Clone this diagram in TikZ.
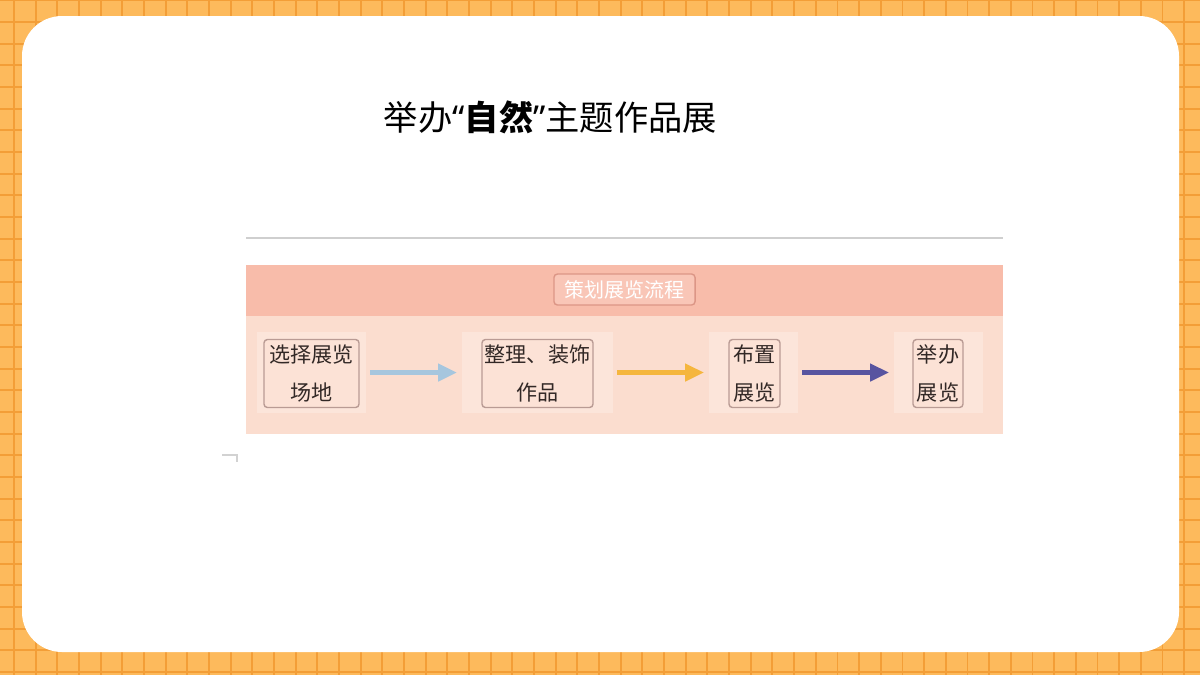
\documentclass[tikz,border=0pt]{standalone}
\usepackage{fontspec}
\usetikzlibrary{arrows.meta}
\newfontfamily\cjk{Noto Sans CJK SC}
\newfontfamily\latinq{Noto Sans}
\definecolor{gridfill}{RGB}{253,186,92}
\definecolor{gridline}{RGB}{243,158,55}
\definecolor{bandtop}{RGB}{248,188,170}
\definecolor{bandlow}{RGB}{251,221,207}
\definecolor{patchc}{RGB}{252,229,218}
\definecolor{boxfill}{RGB}{252,226,214}
\definecolor{boxline}{RGB}{185,155,148}
\definecolor{hdrline}{RGB}{220,150,134}
\definecolor{hdrfill}{RGB}{249,198,183}
\definecolor{arrblue}{RGB}{166,198,222}
\definecolor{arrorange}{RGB}{245,182,62}
\definecolor{arrpurple}{RGB}{88,84,160}
\definecolor{txtdark}{RGB}{50,40,38}
\tikzset{
  patch/.style={fill=patchc, draw=none, inner sep=0pt, minimum height=23.05pt},
  stepbox/.style={fill=boxfill, draw=boxline, line width=0.4pt, rounded corners=1pt,
    inner sep=0pt, minimum height=19.35pt, align=center, text=txtdark,
    font=\cjk\fontsize{6pt}{10.8pt}\selectfont},
  flow/.style={line width=1.45pt, -{Triangle[length=5.4pt,width=4.8pt]},
    shorten <=1pt, shorten >=1.2pt},
}
\begin{document}
\begin{tikzpicture}[x=0.01cm,y=-0.01cm]
\useasboundingbox (0,0) rectangle (1200,675);
% grid background
\fill[gridfill] (0,0) rectangle (1200,675);
\foreach \i in {0,...,55} {
  \draw[gridline, line width=0.55pt] ({14+\i*21.67},0) -- ({14+\i*21.67},675);
}
\foreach \j in {0,...,31} {
  \draw[gridline, line width=0.55pt] (0,{0.3+\j*21.67}) -- (1200,{0.3+\j*21.67});
}
% white card
\fill[white, rounded corners=0.4cm] (22,16) rectangle (1179,652);
% title
\node[font=\cjk\fontsize{9.75pt}{11pt}\selectfont, anchor=center] (title) at (550.5,117)
  {举办{\latinq “}{\bfseries 自然}{\latinq ”}主题作品展};
% gray rule
\draw[gray!38, line width=0.3pt] (246,238) -- (1003,238);
% bands
\fill[bandtop] (246,265) rectangle (1003,316);
\fill[bandlow] (246,316) rectangle (1003,434);
% header
\node[fill=hdrfill, draw=hdrline, line width=0.4pt, rounded corners=1pt,
  minimum width=40.12pt, minimum height=8.82pt, inner sep=0pt, text=white,
  font=\cjk\fontsize{5.7pt}{6pt}\selectfont] (hdr) at (624.5,289.5) {策划展览流程};
% patches
\node[patch, minimum width=31.0pt]  (p1) at (311.5,372.5) {};
\node[patch, minimum width=42.96pt] (p2) at (537.5,372.5) {};
\node[patch, minimum width=25.32pt] (p3) at (753.5,372.5) {};
\node[patch, minimum width=25.32pt] (p4) at (938.5,372.5) {};
% boxes
\node[stepbox, minimum width=27.03pt] (b1) at (311.5,373.5) {选择展览\\场地};
\node[stepbox, minimum width=31.58pt] (b2) at (537.5,373.5) {整理、装饰\\作品};
\node[stepbox, minimum width=14.51pt] (b3) at (754.5,373.5) {布置\\展览};
\node[stepbox, minimum width=14.23pt] (b4) at (938,373.5) {举办\\展览};
% arrows
\draw[flow, arrblue] (p1.east) -- (p2.west);
\draw[flow, arrorange] (p2.east) -- (p3.west);
\draw[flow, arrpurple] (p3.east) -- (p4.west);
% small corner mark
\coordinate (m1) at (222,455);
\coordinate (m2) at (237,455);
\coordinate (m3) at (237,462);
\draw[gray!35, line width=0.3pt] (m1) -- (m2) -- (m3);
\end{tikzpicture}
\end{document}
